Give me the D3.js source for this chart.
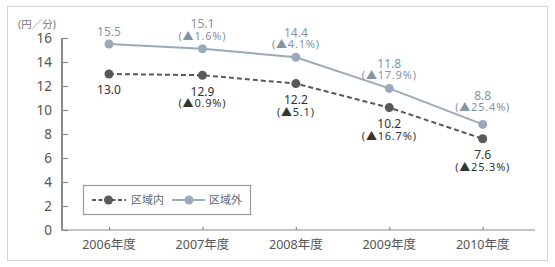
<!DOCTYPE html>
<html><head><meta charset="utf-8">
<script src="https://cdn.jsdelivr.net/npm/d3@7"></script>
<style>body{margin:0;background:#fff}svg{display:block}text{font-family:"Noto Sans","Noto Sans CJK JP",sans-serif}</style>
</head><body><svg id="c" width="555" height="267"></svg>
<script>
const years = ["2006年度","2007年度","2008年度","2009年度","2010年度"];
const insideVals = [13.0, 12.9, 12.2, 10.2, 7.6];
const outsideVals = [15.5, 15.1, 14.4, 11.8, 8.8];
const insideChg = [null, "0.9%", "5.1", "16.7%", "25.3%"];
const outsideChg = [null, "1.6%", "4.1%", "17.9%", "25.4%"];
const yTicks = [0,2,4,6,8,10,12,14,16];
const seriesNames = ["区域内","区域外"];

const svg = d3.select("#c");
const inCol = "#5a5a5a", outCol = "#9aaabb", outText = "#8494a6", axisCol = "#8a8a8a", txt = "#555";

svg.append("rect").attr("x",7.5).attr("y",6.5).attr("width",540).attr("height",254)
  .attr("fill","none").attr("stroke","#d4d4d4");

const x = d3.scalePoint().domain(years).range([109, 482.7]);
const y = d3.scaleLinear().domain([0,16]).range([230, 38]);

// axes
const yAxis = svg.append("g").attr("transform","translate(62,0)")
  .call(d3.axisRight(y).tickValues(yTicks).tickSize(6).tickFormat(""));
yAxis.select(".domain").attr("stroke",axisCol).attr("stroke-width",2).attr("d","M0,38V230");
yAxis.selectAll(".tick line").attr("stroke",axisCol).attr("stroke-width",1.2);
svg.selectAll(".ylab").data(yTicks).join("text").attr("class","ylab")
  .attr("x",52).attr("y",d=>y(d)).attr("dy","0.36em").attr("text-anchor","end")
  .attr("font-size",13.5).attr("fill",txt).text(d=>d);

const xAxis = svg.append("g").attr("transform","translate(0,230)")
  .call(d3.axisTop(x).tickSize(3).tickFormat(""));
xAxis.select(".domain").attr("stroke",axisCol).attr("stroke-width",1.2).attr("d","M61,0H535");
xAxis.selectAll(".tick line").attr("stroke",axisCol).attr("stroke-width",1.2);
svg.selectAll(".xlab").data(years).join("text").attr("class","xlab")
  .attr("x",d=>x(d)).attr("y",244).attr("dy","0.36em").attr("text-anchor","middle")
  .attr("font-size",12.5).attr("fill",txt).text(d=>d);

svg.append("text").attr("x",18).attr("y",24).attr("dy","0.36em").attr("font-size",10.5)
  .attr("fill","#777").text("(円／分)");

const line = d3.line().x((d,i)=>x(years[i])).y(d=>y(d));

// outside series
svg.append("path").datum(outsideVals).attr("d",line).attr("fill","none")
  .attr("stroke",outCol).attr("stroke-width",2);
svg.selectAll(".oc").data(outsideVals).join("circle").attr("class","oc")
  .attr("cx",(d,i)=>x(years[i])).attr("cy",d=>y(d)).attr("r",4.5).attr("fill",outCol);

// inside series
svg.append("path").datum(insideVals).attr("d",line).attr("fill","none")
  .attr("stroke",inCol).attr("stroke-width",2).attr("stroke-dasharray","5,3");
svg.selectAll(".ic").data(insideVals).join("circle").attr("class","ic")
  .attr("cx",(d,i)=>x(years[i])).attr("cy",d=>y(d)).attr("r",4.5).attr("fill",inCol);

// two-line label helper: one text element with tspans
function label(cx, y1, l1, l2, color) {
  const t = svg.append("text").attr("text-anchor","middle").attr("fill",color);
  t.append("tspan").attr("x",cx).attr("y",y1).attr("dy","0.36em").attr("font-size",12).text(l1);
  if (l2) t.append("tspan").attr("x",cx).attr("y",y1+12).attr("dy","0.36em")
    .attr("font-size",11).attr("letter-spacing",0.8).text(l2);
}

outsideVals.forEach((v,i)=>{
  const cx = x(years[i]), cy = y(v);
  const last = i === years.length-1;
  if (outsideChg[i]) {
    const off2 = last ? 17 : 13;
    label(cx, cy-off2-12, v.toFixed(1), "(▲"+outsideChg[i]+")", outText);
  } else {
    label(cx, cy-12, v.toFixed(1), null, outText);
  }
});
insideVals.forEach((v,i)=>{
  const cx = x(years[i]), cy = y(v);
  label(cx, cy+16, v.toFixed(1), insideChg[i] ? "(▲"+insideChg[i]+")" : null, "#333");
});

// legend
const lg = svg.append("g");
lg.append("rect").attr("x",83.5).attr("y",185.5).attr("width",167).attr("height",29)
  .attr("fill","#fff").attr("stroke","#999").attr("stroke-width",1.2);
const ly = 200;
lg.append("line").attr("x1",92).attr("x2",126).attr("y1",ly).attr("y2",ly)
  .attr("stroke",inCol).attr("stroke-width",2).attr("stroke-dasharray","4,2.5");
lg.append("circle").attr("cx",108.5).attr("cy",ly).attr("r",4.5).attr("fill",inCol);
lg.append("text").attr("x",131).attr("y",ly).attr("dy","0.36em").attr("font-size",11)
  .attr("fill","#666").text(seriesNames[0]);
lg.append("line").attr("x1",172).attr("x2",205).attr("y1",ly).attr("y2",ly)
  .attr("stroke",outCol).attr("stroke-width",2);
lg.append("circle").attr("cx",189).attr("cy",ly).attr("r",4.5).attr("fill",outCol);
lg.append("text").attr("x",209).attr("y",ly).attr("dy","0.36em").attr("font-size",11)
  .attr("fill","#666").text(seriesNames[1]);
</script></body></html>
